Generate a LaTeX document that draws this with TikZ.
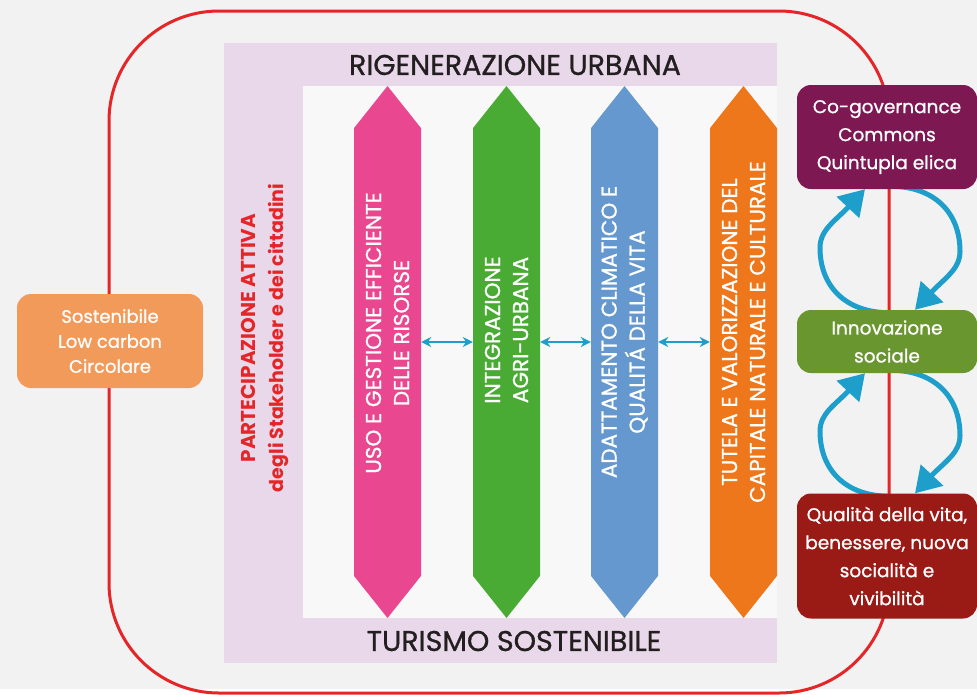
\documentclass[tikz,border=0pt]{standalone}
\usepackage{fontspec}
\setmainfont{Poppins}
\newfontfamily\medfont{Poppins}[FakeBold=0.9]
\usepackage{tikz}
\usetikzlibrary{shapes.arrows,arrows.meta,calc}

\definecolor{sheet}{HTML}{F2F2F2}
\definecolor{frame}{HTML}{E52629}
\definecolor{lilac}{HTML}{E8D8EA}
\definecolor{inner}{HTML}{F8F8F8}
\definecolor{ink}{HTML}{231F20}
\definecolor{cpink}{HTML}{E9478F}
\definecolor{cgreen}{HTML}{4AAB34}
\definecolor{cblue}{HTML}{6598CE}
\definecolor{corange}{HTML}{EE771C}
\definecolor{cyanlink}{HTML}{1E9FCB}
\definecolor{peach}{HTML}{F29A5A}
\definecolor{plum}{HTML}{7D1853}
\definecolor{olive}{HTML}{6A962F}
\definecolor{brick}{HTML}{9A1A16}

\pgfdeclarelayer{back}
\pgfsetlayers{back,main}

\begin{document}
\begin{tikzpicture}[x=1pt,y=-1pt,
    bar/.style={double arrow, double arrow head extend=0pt, double arrow tip angle=77,
        minimum height=532pt, minimum width=67pt, inner sep=0pt, rotate=90},
    bartext/.style={rotate=90, align=center, text=white, font=\medfont\fontsize{21.5}{28}\selectfont},
    box/.style={rounded corners=14pt, minimum width=180pt, inner sep=0pt, align=center,
        text=white, font=\medfont\fontsize{18.5}{28}\selectfont},
    title/.style={text=ink, font=\medfont\fontsize{28.5}{30}\selectfont},
    link/.style={{Stealth[length=10pt,width=10pt]}-{Stealth[length=10pt,width=10pt]},
        draw=cyanlink, line width=1.8pt},
    cycle/.style={-{Triangle[length=25pt,width=30pt]}, draw=cyanlink, line width=5pt}]

    \begin{pgfonlayer}{back}
        \fill[sheet] (0,0) rectangle (977,689);
        \draw[frame, line width=3pt, rounded corners=110pt] (109,11) rectangle (889,693);
        \fill[lilac] (224,43) rectangle (777,663);
        \fill[inner] (303,86) rectangle (777,618);
    \end{pgfonlayer}
    \useasboundingbox (0,0) rectangle (977,689);

    % titles of the frame
    \node[title] (rigen) at (515,65) {RIGENERAZIONE URBANA};
    \node[title] (turismo) at (514,641) {TURISMO SOSTENIBILE};
    \node[rotate=90, align=center, text=frame, font=\bfseries] (partecipa) at (265,338)
        {{\fontsize{20}{22}\selectfont PARTECIPAZIONE ATTIVA}\\[12pt]
         {\fontsize{19}{22}\selectfont degli Stakeholder e dei cittadini}};

    % the four pillars
    \node[bar, fill=cpink] (uso) at (387.5,352) {};
    \node[bar, fill=cgreen] (agri) at (506.5,352) {};
    \node[bar, fill=cblue] (clima) at (624.5,352) {};
    \node[bar, fill=corange] (tutela) at (743.5,352) {};

    \node[bartext] (usotext) at (387.5,333) {USO E GESTIONE EFFICIENTE\\DELLE RISORSE};
    \node[bartext] (agritext) at (506.5,330) {INTEGRAZIONE\\AGRI-URBANA};
    \node[bartext] (climatext) at (624.5,332) {ADATTAMENTO CLIMATICO E\\QUALITÁ DELLA VITA};
    \node[bartext] (tutelatext) at (743.5,332) {TUTELA E VALORIZZAZIONE DEL\\CAPITALE NATURALE E CULTURALE};

    \draw[link] ($(uso.south)+(0,-10)$) -- ($(agri.north)+(0,-10)$);
    \draw[link] ($(agri.south)+(0,-10)$) -- ($(clima.north)+(0,-10)$);
    \draw[link] ($(clima.south)+(0,-10)$) -- ($(tutela.north)+(0,-10)$);

    % side boxes
    \node[box, fill=peach, minimum width=186pt, minimum height=94pt,
        font=\medfont\fontsize{18}{25}\selectfont] (sostenibile) at (110,341)
        {Sostenibile\\Low carbon\\Circolare};
    \node[box, fill=plum, minimum height=104pt] (cogov) at (887,137)
        {Co-governance\\Commons\\Quintupla elica};
    \node[box, fill=olive, minimum height=63pt] (inno) at (887,341.5)
        {Innovazione\\sociale};
    \node[box, fill=brick, minimum height=125pt] (qual) at (887,556)
        {Qualità della vita,\\benessere, nuova\\socialità e\\vivibilità};

    \begin{pgfonlayer}{back}
        \draw[cycle] ($(inno.north)+(3,3)$) .. controls +(-45,0) and +(0,38) .. ($(inno.north)+(-67,-62)$)
            .. controls +(0,-18) and +(-30,32) .. ($(cogov.south)+(-22,0)$);
        \draw[cycle] ($(cogov.south)+(3,-3)$) .. controls +(45,0) and +(0,-38) .. ($(cogov.south)+(73,62)$)
            .. controls +(0,18) and +(30,-32) .. ($(inno.north)+(28,0)$);
        \draw[cycle] ($(qual.north)+(3,3)$) .. controls +(-45,0) and +(0,38) .. ($(qual.north)+(-67,-62)$)
            .. controls +(0,-18) and +(-30,32) .. ($(inno.south)+(-22,0)$);
        \draw[cycle] ($(inno.south)+(3,-3)$) .. controls +(45,0) and +(0,-38) .. ($(inno.south)+(73,62)$)
            .. controls +(0,18) and +(30,-32) .. ($(qual.north)+(28,0)$);
    \end{pgfonlayer}
\end{tikzpicture}
\end{document}
